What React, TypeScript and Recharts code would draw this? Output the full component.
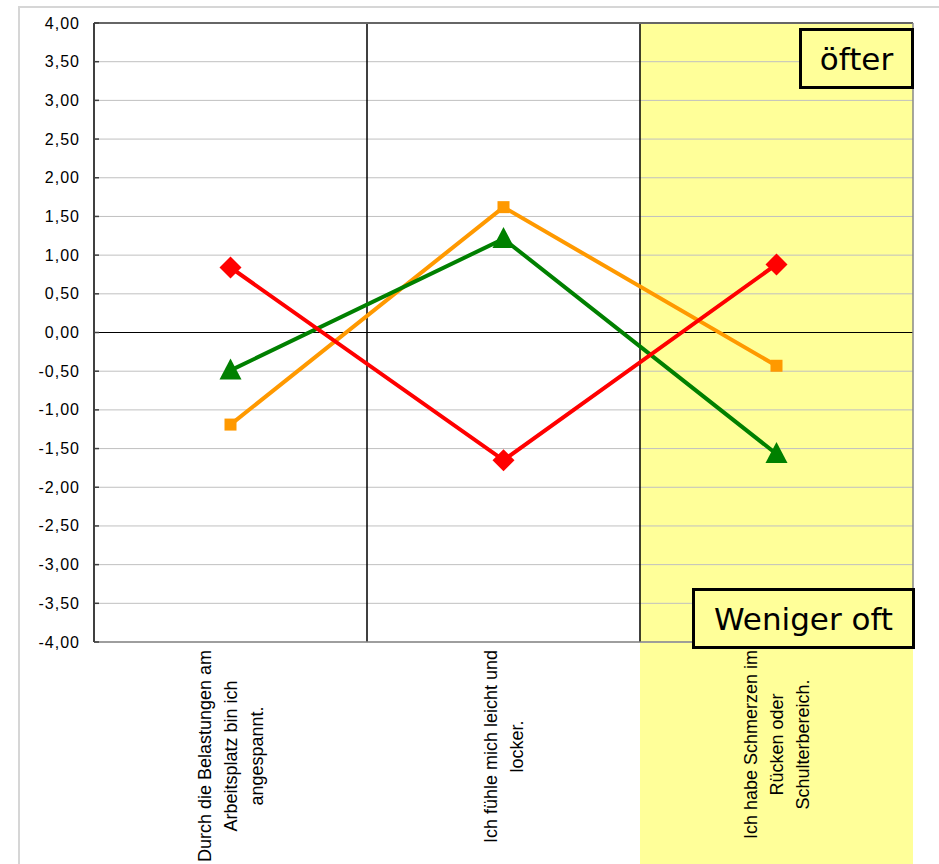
import React from 'react';
import {
  ComposedChart, Line, XAxis, YAxis, ReferenceLine, ReferenceArea
} from 'recharts';

const categories = [
  ['Durch die Belastungen am', 'Arbeitsplatz bin ich', 'angespannt.'],
  ['Ich fühle mich leicht und', 'locker.'],
  ['Ich habe Schmerzen im', 'Rücken oder', 'Schulterbereich.'],
];
const redValues = [0.84, -1.65, 0.88];
const orangeValues = [-1.19, 1.62, -0.43];
const greenValues = [-0.49, 1.21, -1.57];
const yTicks = [4, 3.5, 3, 2.5, 2, 1.5, 1, 0.5, 0, -0.5, -1, -1.5, -2, -2.5, -3, -3.5, -4];
const upperNote = 'öfter';
const lowerNote = 'Weniger oft';

const data = categories.map((lines, i) => ({
  x: i + 0.5,
  red: redValues[i],
  orange: orangeValues[i],
  green: greenValues[i],
}));
const xTicks = categories.map((_, i) => i + 0.5);

const LABEL_FONT = '"Liberation Sans", Arial, sans-serif';
const YELLOW = '#FFFF99';

let ctx: CanvasRenderingContext2D | null = null;
const measure = (s: string) => {
  if (!ctx) {
    ctx = document.createElement('canvas').getContext('2d');
    if (ctx) ctx.font = '18px "Liberation Sans"';
  }
  return ctx ? ctx.measureText(s).width : s.length * 9;
};

const fmt = (v: number) => v.toFixed(2).replace('.', ',');

const YTick = ({ x, y, payload }: any) => (
  <g>
    <line x1={x + 14} x2={x + 19} y1={y} y2={y} stroke="#404040" strokeWidth={1.5} />
    <text x={x} y={y} textAnchor="end" dominantBaseline="central" fontSize={16}
      letterSpacing={1} fontFamily={LABEL_FONT} fill="#000">
      {fmt(payload.value)}
    </text>
  </g>
);

const CategoryTick = ({ x, y, payload }: any) => {
  const idx = Math.floor(payload.value);
  const lines = categories[idx] || [];
  const maxW = Math.max(...lines.map(measure));
  return (
    <g>
      {idx === 2 && <rect x={x - 136.5} y={y + 1} width={273} height={230} fill={YELLOW} />}
      <g transform={`translate(${x},${y}) rotate(-90)`}>
        {lines.map((l, i) => (
          <text key={i} x={-(8 + maxW / 2)} y={(i - (lines.length - 1) / 2) * 26}
            textAnchor="middle" dominantBaseline="central" fontSize={18}
            fontFamily={LABEL_FONT} fill="#000">
            {l}
          </text>
        ))}
      </g>
    </g>
  );
};

const Diamond = ({ cx, cy, index }: any) => (
  <polygon key={`d-${index}`} points={`${cx},${cy - 11} ${cx + 11},${cy} ${cx},${cy + 11} ${cx - 11},${cy}`} fill="#FF0000" />
);
const Square = ({ cx, cy, index }: any) => (
  <rect key={`s-${index}`} x={cx - 6} y={cy - 6} width={12} height={12} fill="#FF9900" />
);
const Triangle = ({ cx, cy, index }: any) => (
  <polygon key={`t-${index}`} points={`${cx},${cy - 12} ${cx + 11},${cy + 9} ${cx - 11},${cy + 9}`} fill="#008000" />
);

const boxStyle: React.CSSProperties = {
  position: 'absolute',
  boxSizing: 'border-box',
  border: '3px solid #000',
  background: YELLOW,
  display: 'flex',
  alignItems: 'center',
  justifyContent: 'center',
  fontFamily: '"DejaVu Sans", sans-serif',
  fontSize: 31,
  color: '#000',
};

export default function App() {
  return (
    <div style={{ position: 'absolute', left: 0, top: 0, width: 939, height: 864, background: '#fff', overflow: 'hidden' }}>
      <div style={{ position: 'absolute', left: 18, top: 6, right: 0, bottom: 0, borderTop: '2px solid #d6d6d6', borderLeft: '2px solid #d6d6d6' }} />
      <ComposedChart width={939} height={864} data={data}
        margin={{ top: 23, right: 26, bottom: 0, left: 18 }}
        style={{ position: 'absolute', left: 0, top: 0 }}>
        <ReferenceArea x1={2} x2={3} y1={-4} y2={4} fill={YELLOW} fillOpacity={1} stroke="none" />
        {yTicks.map((t) => (
          <ReferenceLine key={t} y={t} stroke="#c0c0c0" strokeWidth={1} />
        ))}
        <ReferenceLine y={0} stroke="#000" strokeWidth={1} />
        <ReferenceLine x={1} stroke="#000" strokeWidth={1.5} />
        <ReferenceLine x={2} stroke="#000" strokeWidth={1.5} />
        <ReferenceLine y={4} stroke="#666" strokeWidth={2} />
        <ReferenceLine x={3} stroke="#888" strokeWidth={1.5} />
        <XAxis type="number" dataKey="x" domain={[0, 3]} ticks={xTicks} interval={0}
          height={222} tickLine={false} tickSize={0} tickMargin={0}
          axisLine={{ stroke: '#888', strokeWidth: 1.5 }} tick={<CategoryTick />} />
        <YAxis type="number" domain={[-4, 4]} ticks={yTicks} interval={0} width={76}
          tickLine={false} tickSize={0} tickMargin={14}
          axisLine={{ stroke: '#404040', strokeWidth: 2 }} tick={<YTick />} />
        <Line type="linear" dataKey="orange" stroke="#FF9900" strokeWidth={4}
          dot={(p: any) => <Square key={`s-${p.index}`} {...p} />} activeDot={false} isAnimationActive={false} />
        <Line type="linear" dataKey="green" stroke="#008000" strokeWidth={4}
          dot={(p: any) => <Triangle key={`t-${p.index}`} {...p} />} activeDot={false} isAnimationActive={false} />
        <Line type="linear" dataKey="red" stroke="#FF0000" strokeWidth={4}
          dot={(p: any) => <Diamond key={`d-${p.index}`} {...p} />} activeDot={false} isAnimationActive={false} />
      </ComposedChart>
      <div style={{ ...boxStyle, left: 799, top: 28, width: 115, height: 61 }}>{upperNote}</div>
      <div style={{ ...boxStyle, left: 692, top: 588, width: 223, height: 61 }}>{lowerNote}</div>
    </div>
  );
}
